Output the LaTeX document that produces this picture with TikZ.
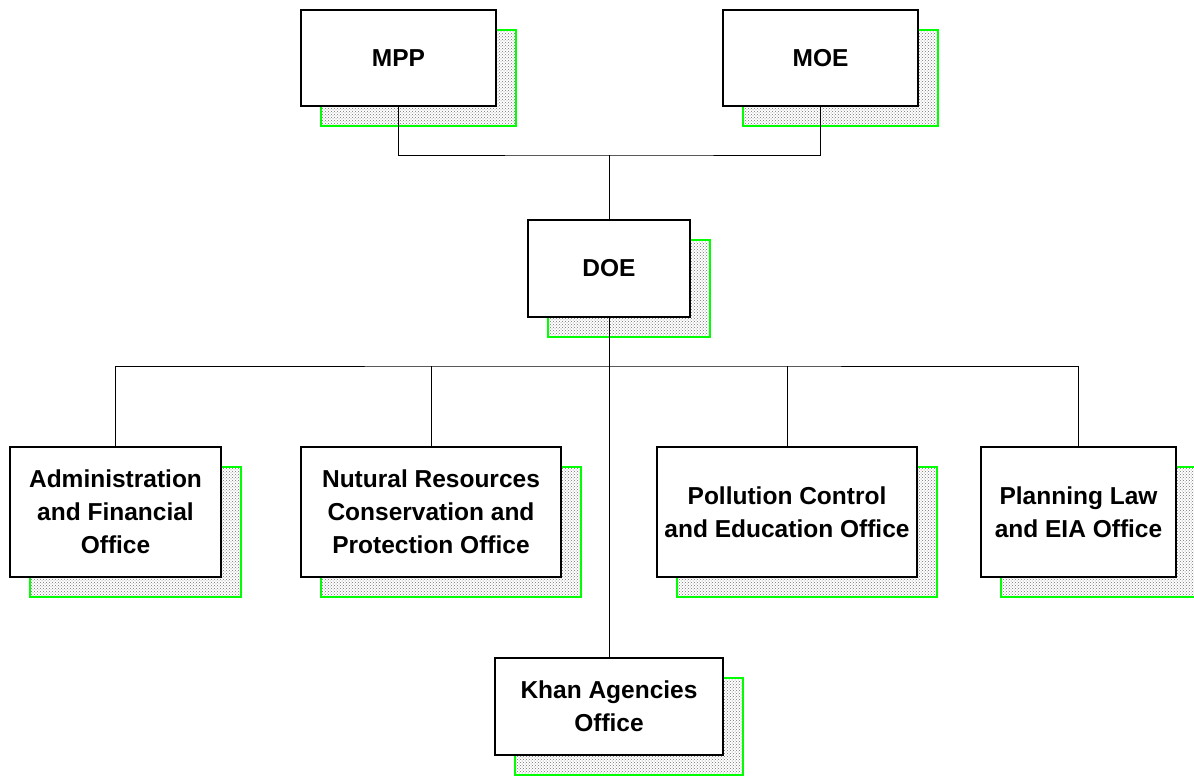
\documentclass[tikz,border=0pt]{standalone}
\usepackage{fontspec}
\setmainfont{Liberation Sans}
\usetikzlibrary{positioning,shadows,patterns}
\definecolor{shadegreen}{RGB}{0,255,0}

\begin{document}
\begin{tikzpicture}[
    x=1pt, y=-1pt,
    unit/.style={rectangle, draw, fill=white, line width=1.8pt, inner sep=0pt, outer sep=0pt, align=center,
      font=\fontsize{24.5}{33}\selectfont\bfseries,
      drop shadow={shadow xshift=20pt, shadow yshift=-20pt, opacity=1, draw=shadegreen,
        line width=2.4pt, pattern=crosshatch dots, pattern color=black!55}},
    link/.style={line width=0.8pt}
]
\useasboundingbox (0,0) rectangle (1194,776);

\node[unit, minimum width=195pt, minimum height=96pt] (mpp) at (398.5,58) {MPP};
\node[unit, minimum width=195pt, minimum height=96pt, right=227pt of mpp] (moe) {MOE};
\node[unit, minimum width=162pt, minimum height=97pt] (doe) at (609,268.5) {DOE};
\node[unit, minimum width=211pt, minimum height=130pt] (admin) at (115.5,512) {Administration\\and Financial\\Office};
\node[unit, minimum width=260pt, minimum height=130pt, right=80pt of admin] (natural) {Nutural Resources\\Conservation and\\Protection Office};
\node[unit, minimum width=260pt, minimum height=130pt, right=96pt of natural] (pollution) {Pollution Control\\and Education Office};
\node[unit, minimum width=195pt, minimum height=130pt, right=64pt of pollution] (planning) {Planning Law\\and EIA Office};
\node[unit, minimum width=228pt, minimum height=97pt, below=341pt of doe] (khan) {Khan Agencies\\Office};

% ministries to department
\coordinate (join) at (609,155);
\draw[link] (mpp.south) |- (join) -| (moe.south);
\draw[link] (join) -- (doe.north);

% department to offices
\coordinate (bus) at (609,366);
\draw[link] (admin.north) |- (bus) -| (planning.north);
\draw[link] (natural.north) -- (natural.north |- bus);
\draw[link] (pollution.north) -- (pollution.north |- bus);
\draw[link] (doe.south) -- (khan.north);
\end{tikzpicture}
\end{document}
